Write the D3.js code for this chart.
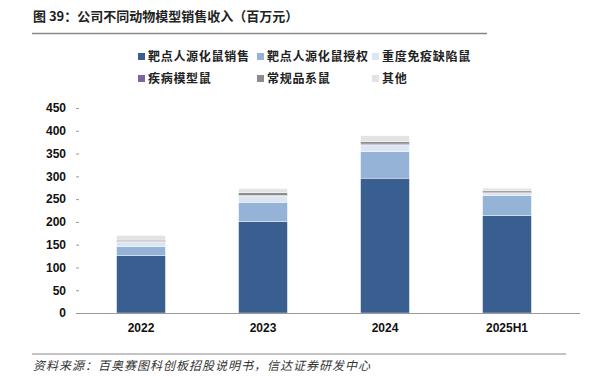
<!DOCTYPE html>
<html lang="zh">
<head>
<meta charset="UTF-8">
<title>公司不同动物模型销售收入</title>
<script src="https://d3js.org/d3.v7.min.js"></script>
<style>
  body { margin: 0; background: #fff; }
  svg text { font-family: "Noto Sans CJK SC", "Liberation Sans", sans-serif; }
</style>
</head>
<body>
<div id="chart"></div>
<script>
// data (百万元)
const years = ["2022", "2023", "2024", "2025H1"];
const seriesNames = ["靶点人源化鼠销售", "靶点人源化鼠授权", "重度免疫缺陷鼠", "疾病模型鼠", "常规品系鼠", "其他"];
const targetSales = [126, 201, 296, 214];
const targetLicense = [20, 42, 58, 44];
const immunodeficient = [10, 14, 15, 5];
const diseaseModel = [1, 1, 2, 1];
const standardStrain = [3, 6, 5, 4];
const others = [10, 9, 13, 6];
const yTicks = [0, 50, 100, 150, 200, 250, 300, 350, 400, 450];
const colors = ["#385f8f", "#95b3d7", "#dce6f2", "#8064a2", "#8c8c8c", "#e3e3e3"];

const w = 596, h = 378;
const svg = d3.select("#chart").append("svg").attr("width", w).attr("height", h);

// title + rule
svg.append("text").attr("x", 33).attr("y", 21)
  .attr("font-size", 13).attr("font-weight", "bold").attr("fill", "#222")
  .text("图 39：公司不同动物模型销售收入（百万元）");
svg.append("line").attr("x1", 32).attr("x2", 487).attr("y1", 33.5).attr("y2", 33.5)
  .attr("stroke", "#888").attr("stroke-width", 1.5);

// legend
const legendPos = [[138, 57], [257, 57], [372, 57], [138, 79], [257, 79], [372, 79]];
seriesNames.forEach((name, i) => {
  const g = svg.append("g").attr("transform", `translate(${legendPos[i][0]},${legendPos[i][1]})`);
  g.append("rect").attr("x", 0).attr("y", -4).attr("width", 7).attr("height", 7).attr("fill", colors[i]);
  g.append("text").attr("x", 10).attr("y", 4).attr("font-size", 12).attr("font-weight", "bold")
    .attr("letter-spacing", 0.7).attr("fill", "#222").text(name);
});

const rows = years.map((y, i) => ({
  year: y, s0: targetSales[i], s1: targetLicense[i], s2: immunodeficient[i],
  s3: diseaseModel[i], s4: standardStrain[i], s5: others[i]
}));
const stack = d3.stack().keys(["s0", "s1", "s2", "s3", "s4", "s5"])(rows);

const x = d3.scaleBand().domain(years).range([80, 568]).paddingInner(0.6).paddingOuter(0.3);
const y = d3.scaleLinear().domain([0, 450]).range([313, 108]);

svg.append("g").selectAll("g").data(stack).join("g")
  .attr("fill", (d, i) => colors[i])
  .selectAll("rect").data(d => d).join("rect")
  .attr("x", d => x(d.data.year))
  .attr("width", x.bandwidth())
  .attr("y", d => y(d[1]))
  .attr("height", d => y(d[0]) - y(d[1]))
  .attr("stroke", "#fff").attr("stroke-width", 0.4);

// y axis: labels + small ticks, no line
const yAxis = svg.append("g").attr("transform", "translate(79,0)")
  .call(d3.axisLeft(y).tickValues(yTicks).tickSize(3).tickPadding(10));
yAxis.select(".domain").remove();
yAxis.selectAll("line").attr("stroke", "#999");
yAxis.selectAll("text").attr("font-size", 12).attr("font-weight", "bold").attr("fill", "#111")
  .style("font-family", "'Liberation Sans', Arial, sans-serif");

// x axis
const xAxis = svg.append("g").attr("transform", "translate(0,313)")
  .call(d3.axisBottom(x).tickSize(0).tickPadding(10));
xAxis.select(".domain").attr("stroke", "#999").attr("d", "M79,0.5H580");
xAxis.selectAll("text").attr("font-size", 12).attr("font-weight", "bold").attr("fill", "#111")
  .style("font-family", "'Liberation Sans', Arial, sans-serif");

// source line
svg.append("line").attr("x1", 32).attr("x2", 566).attr("y1", 354).attr("y2", 354)
  .attr("stroke", "#888").attr("stroke-width", 1);
svg.append("text").attr("x", 33).attr("y", 370)
  .attr("font-size", 12).attr("font-style", "italic").attr("letter-spacing", 1)
  .attr("fill", "#333")
  .text("资料来源：百奥赛图科创板招股说明书，信达证券研发中心");
</script>
</body>
</html>
